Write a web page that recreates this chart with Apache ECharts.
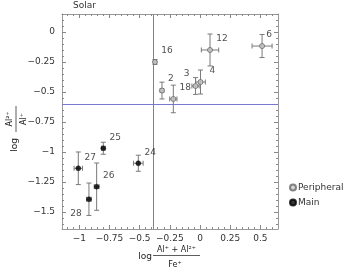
<!DOCTYPE html>
<html><head><meta charset="utf-8">
<script src="https://cdn.jsdelivr.net/npm/echarts@6/dist/echarts.min.js"></script>
<style>html,body{margin:0;padding:0;background:#fff}#c{width:343px;height:275px}</style>
</head><body><div id="c"></div>
<script>
// ---- data ----
const names  = ['16','2','18','3','4','12','6','25','27','26','28','24'];
const groups = ['Peripheral','Peripheral','Peripheral','Peripheral','Peripheral','Peripheral','Peripheral','Main','Main','Main','Main','Main'];
const xVals  = [-0.373,-0.315,-0.221,-0.037,0.004,0.083,0.514,-0.801,-1.008,-0.856,-0.920,-0.511];
const yVals  = [-0.250,-0.488,-0.558,-0.450,-0.417,-0.150,-0.117,-0.969,-1.136,-1.289,-1.394,-1.094];
const xErrs  = [0.012,0.015,0.030,0.030,0.040,0.072,0.083,0.015,0.035,0.020,0.020,0.040];
const yErrs  = [0.020,0.070,0.115,0.070,0.100,0.133,0.096,0.050,0.136,0.197,0.135,0.067];
const xTickLabels = [-1,-0.75,-0.5,-0.25,0,0.25,0.5];
const yTickLabels = [0,-0.25,-0.5,-0.75,-1,-1.25,-1.5];
const refX = -0.39, refY = -0.6;
const xRange = [-1.143, 0.646], yRange = [-1.642, 0.15];
const titleText = 'Solar';
const legendNames = ['Peripheral','Main'];

// ---- styling ----
const FONT = 'DejaVu Sans';
const labelOffsets = {'3':[-9,-12],'28':[-13,14],'6':[7,-11],'2':[9,-12]};
const defOffset = [12,-11];
function minors(lo, hi, step, majors){
  const out=[]; const n=Math.round((hi-lo)/step);
  for(let i=0;i<=n;i++){const v=+(lo+i*step).toFixed(4); if(!majors.some(m=>Math.abs(m-v)<1e-6)) out.push(v);}
  return out;
}
const xMinor = minors(-1.1, 0.6, 0.05, xTickLabels);
const yMinor = minors(-1.6, 0.15, 0.05, yTickLabels);
const fmt = v => String(v).replace('-', '\u2212');
const frameColor = '#999';
const refColor = '#7878d2';

function mkX(pos, major, withLabel){
  return {type:'value', position:pos, min:xRange[0], max:xRange[1],
    axisLine:{show:major, onZero:false, lineStyle:{color:frameColor}},
    axisTick:{show:true, inside:true, length: major?4:2, customValues: major?xTickLabels:xMinor, lineStyle:{color:'#888'}},
    axisLabel:{show:withLabel, customValues:xTickLabels, formatter:fmt, fontFamily:FONT, fontSize:9, color:'#333', margin:5},
    splitLine:{show:false}, axisPointer:{show:false}};
}
function mkY(pos, major, withLabel){
  return {type:'value', position:pos, min:yRange[0], max:yRange[1],
    axisLine:{show:major, onZero:false, lineStyle:{color:frameColor}},
    axisTick:{show:true, inside:true, length: major?4:2, customValues: major?yTickLabels:yMinor, lineStyle:{color:'#888'}},
    axisLabel:{show:withLabel, customValues:yTickLabels, formatter:fmt, fontFamily:FONT, fontSize:9, color:'#333', margin:7},
    splitLine:{show:false}, axisPointer:{show:false}};
}

const pts = names.map((n,i)=>({name:n, g:groups[i], value:[xVals[i], yVals[i], xErrs[i], yErrs[i]]}));
function scatterData(g){
  return pts.filter(p=>p.g===g).map(p=>({name:p.name, value:[p.value[0],p.value[1]],
    label:{show:true, formatter:p.name, position:'inside', offset:(labelOffsets[p.name]||defOffset),
      fontFamily:FONT, fontSize:9, color:'#222'}}));
}

const chart = echarts.init(document.getElementById('c'), null, {renderer:'canvas'});
chart.setOption({
  animation:false,
  tooltip:{show:false},
  grid:{left:62, right:65, top:14, bottom:46, containLabel:false},
  xAxis:[mkX('bottom',true,true), mkX('bottom',false,false), mkX('top',true,false), mkX('top',false,false)],
  yAxis:[mkY('left',true,true), mkY('left',false,false), mkY('right',true,false), mkY('right',false,false)],
  legend:{data:legendNames, orient:'vertical', left:284, top:178, itemWidth:6, itemHeight:6, itemGap:6,
    icon:'circle', textStyle:{fontFamily:FONT, fontSize:9, color:'#333', padding:[0,0,0,-3]}},
  series:[
    {type:'custom', name:'ref', xAxisIndex:0, yAxisIndex:0, silent:true, data:[[refX, refY]],
      renderItem:function(params, api){
        const x=api.value(0), y=api.value(1);
        const a=api.coord([x, yRange[0]]), b=api.coord([x, yRange[1]]);
        const c=api.coord([xRange[0], y]), d=api.coord([xRange[1], y]);
        const vx=Math.round(a[0]), hy=Math.round(c[1]);
        return {type:'group', children:[
          {type:'rect', shape:{x:vx, y:b[1], width:1, height:a[1]-b[1]}, style:{fill:refColor}},
          {type:'rect', shape:{x:c[0], y:hy, width:d[0]-c[0], height:1}, style:{fill:refColor}}
        ]};
      }, z:1},
    {type:'custom', name:'err', xAxisIndex:0, yAxisIndex:0, silent:true,
      data: pts.map(p=>p.value),
      renderItem:function(params, api){
        const x=api.value(0), y=api.value(1), xe=api.value(2), ye=api.value(3);
        const l=api.coord([x-xe,y]), r=api.coord([x+xe,y]), t=api.coord([x,y+ye]), b=api.coord([x,y-ye]);
        const st={stroke:'#7a7a7a', lineWidth:1};
        const cap=2.5, ch=[];
        const line=(x1,y1,x2,y2)=>ch.push({type:'line', shape:{x1,y1,x2,y2}, style:st});
        line(l[0],l[1],r[0],r[1]); line(l[0],l[1]-cap,l[0],l[1]+cap); line(r[0],r[1]-cap,r[0],r[1]+cap);
        line(t[0],t[1],b[0],b[1]); line(t[0]-cap,t[1],t[0]+cap,t[1]); line(b[0]-cap,b[1],b[0]+cap,b[1]);
        return {type:'group', children:ch};
      }, z:2},
    {type:'scatter', name:'Peripheral', xAxisIndex:0, yAxisIndex:0, symbol:'circle', symbolSize:5,
      itemStyle:{color:'#c8c8c8', borderColor:'#666', borderWidth:1}, data:scatterData('Peripheral'), z:3},
    {type:'scatter', name:'Main', xAxisIndex:0, yAxisIndex:0, symbol:'circle', symbolSize:5,
      itemStyle:{color:'#000', borderColor:'#000', borderWidth:0.5}, data:scatterData('Main'), z:3}
  ],
  graphic:[
    {type:'text', left:73, top:1, style:{text:titleText, fontFamily:FONT, fontSize:9, fill:'#333'}},
    // x axis title
    {type:'text', x:145, y:257, style:{text:'log', fontFamily:FONT, fontSize:9, fill:'#222', align:'center', verticalAlign:'middle'}},
    {type:'text', x:176.5, y:249.5, style:{text:'Al\u207A + Al\u00B2\u207A', fontFamily:FONT, fontSize:8, fill:'#222', align:'center', verticalAlign:'middle'}},
    {type:'line', shape:{x1:153, y1:255.5, x2:200, y2:255.5}, style:{stroke:'#333', lineWidth:0.8}},
    {type:'text', x:175, y:264.5, style:{text:'Fe\u207A', fontFamily:FONT, fontSize:8, fill:'#222', align:'center', verticalAlign:'middle'}},
    // y axis title
    {type:'group', x:16, y:119, rotation:Math.PI/2, children:[
      {type:'text', x:-26, y:-1.5, style:{text:'log', fontFamily:FONT, fontSize:9, fill:'#222', align:'center', verticalAlign:'middle'}},
      {type:'text', x:0, y:-6.5, style:{text:'Al\u00B2\u207A', fontFamily:FONT, fontSize:8, fill:'#222', align:'center', verticalAlign:'middle'}},
      {type:'line', shape:{x1:-13, y1:0, x2:13, y2:0}, style:{stroke:'#333', lineWidth:0.8}},
      {type:'text', x:0, y:8, style:{text:'Al\u207A', fontFamily:FONT, fontSize:8, fill:'#222', align:'center', verticalAlign:'middle'}}
    ]}
  ]
});
</script></body></html>
